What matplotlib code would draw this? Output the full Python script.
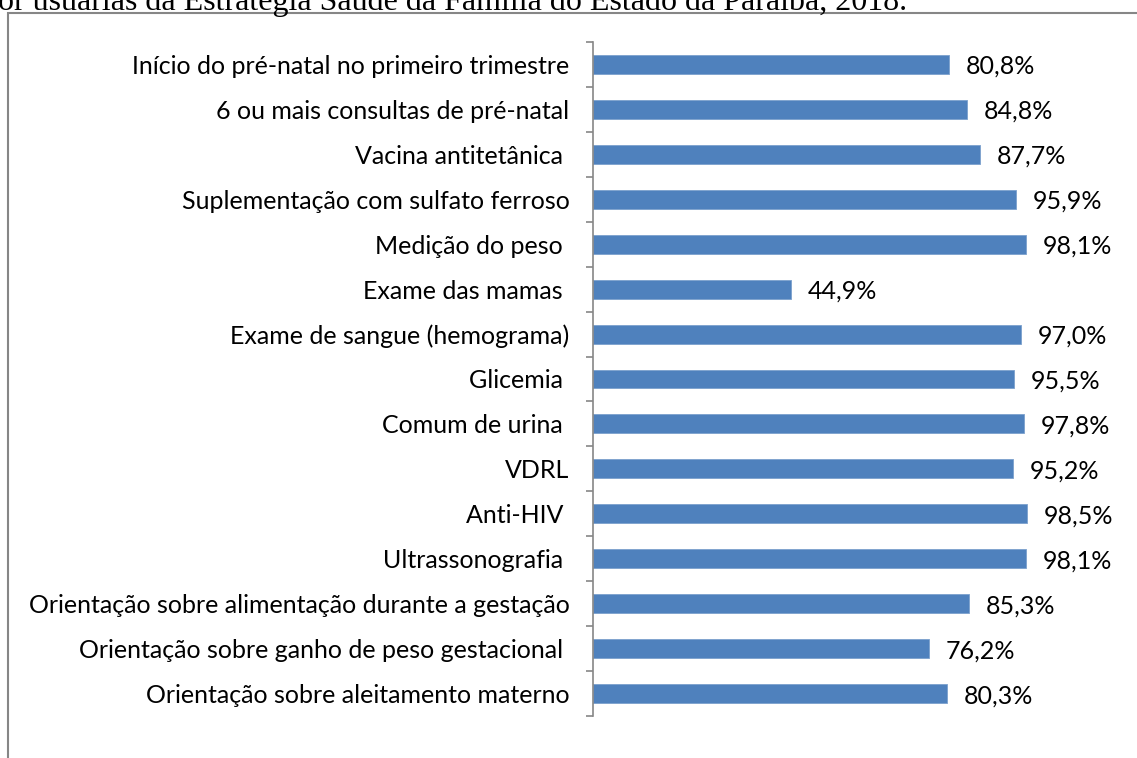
import matplotlib
matplotlib.use("Agg")
import matplotlib.pyplot as plt
from matplotlib.patches import Rectangle

categories = [
    "Início do pré-natal no primeiro trimestre",
    "6 ou mais consultas de pré-natal",
    "Vacina antitetânica ",
    "Suplementação com sulfato ferroso",
    "Medição do peso ",
    "Exame das mamas ",
    "Exame de sangue (hemograma)",
    "Glicemia ",
    "Comum de urina ",
    "VDRL",
    "Anti-HIV ",
    "Ultrassonografia ",
    "Orientação sobre alimentação durante a gestação",
    "Orientação sobre ganho de peso gestacional ",
    "Orientação sobre aleitamento materno",
]
values = [80.8, 84.8, 87.7, 95.9, 98.1, 44.9, 97.0, 95.5, 97.8, 95.2,
          98.5, 98.1, 85.3, 76.2, 80.3]
value_labels = ["80,8%", "84,8%", "87,7%", "95,9%", "98,1%", "44,9%", "97,0%",
                "95,5%", "97,8%", "95,2%", "98,5%", "98,1%", "85,3%", "76,2%",
                "80,3%"]
caption = "por usuárias da Estratégia Saúde da Família do Estado da Paraíba, 2018."

W, H = 1137, 758
FONT = "Lato"
FS = 18
fig = plt.figure(figsize=(W / 100, H / 100), dpi=100)

# axes placed in pixel terms: x 593..1034, y 42..716 (from top)
ax = fig.add_axes([593 / W, 1 - 716 / H, (1034 - 593) / W, (716 - 42) / H])

GRAY = "#868686"
n = len(categories)
ypos = list(range(n))
ax.barh(ypos, values, height=0.42, color="#4F81BD", edgecolor="#7BA0CD",
        linewidth=0.6)
ax.set_ylim(n - 0.5, -0.5)
ax.set_xlim(0, 100)

for y, v, lab in zip(ypos, values, value_labels):
    ax.annotate(lab, (v, y), xytext=(12, -1.5), textcoords="offset points",
                ha="left", va="center", fontsize=FS, family=FONT,
                color="#000000")

ax.set_yticks(ypos)
ax.set_yticklabels(categories, fontsize=FS, family=FONT)
ax.tick_params(axis="y", which="major", length=0, pad=17)
ax.set_yticks([i - 0.5 for i in range(n + 1)], minor=True)
ax.tick_params(axis="y", which="minor", length=5, color=GRAY, width=1.2)
ax.set_xticks([])
for s in ["top", "right", "bottom"]:
    ax.spines[s].set_visible(False)
ax.spines["left"].set_color(GRAY)
ax.spines["left"].set_linewidth(1.2)

# outer chart frame (cropped by the page)
fig.patches.append(Rectangle((8 / W, -0.1), 2, 1 - 13 / H + 0.1,
                             transform=fig.transFigure, fill=False,
                             edgecolor=GRAY, linewidth=1.5))

# cropped caption line of the document
fig.text(-18 / W, 1 - 10 / H, caption, ha="left", va="baseline",
         fontsize=23, family="Liberation Serif")

fig.savefig("out.png", dpi=100)
